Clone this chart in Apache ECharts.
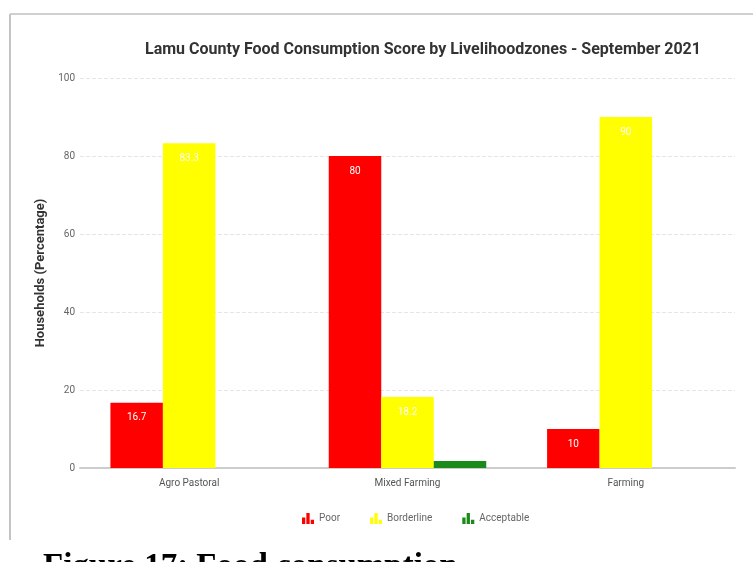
<!DOCTYPE html>
<html>
<head>
<meta charset="utf-8">
<script src="https://cdn.jsdelivr.net/npm/echarts@6/dist/echarts.min.js"></script>
<style>html,body{margin:0;padding:0;background:#fff;}#c{width:753px;height:562px;}</style>
</head>
<body>
<div id="c"></div>
<script>
const categories = ['Agro Pastoral', 'Mixed Farming', 'Farming'];
const poor = [16.7, 80, 10];
const borderline = [83.3, 18.2, 90];
const acceptable = [null, 1.8, null];
const yTicks = [0, 20, 40, 60, 80, 100];
const titleText = 'Lamu County Food Consumption Score by Livelihoodzones - September 2021';
const yAxisName = 'Households (Percentage)';
const caption = 'Figure 17: Food consumption';

const barIcon = 'path://M0,10 L0,4 L3,4 L3,10 Z M4,10 L4,0 L7,0 L7,10 Z M8,10 L8,6 L11,6 L11,10 Z';

const chart = echarts.init(document.getElementById('c'));
const lbl = {show: true, position: 'insideTop', color: '#fff', fontSize: 10, fontFamily: 'Roboto', distance: 10};
chart.setOption({
  animation: false,
  title: {
    text: titleText, left: 418, top: 37, textAlign: 'center',
    textStyle: {fontSize: 16, fontWeight: 'bold', color: '#333', fontFamily: 'Roboto'}
  },
  legend: {
    bottom: 33, left: 297, itemGap: 30, itemWidth: 12, itemHeight: 12,
    textStyle: {fontSize: 10, color: '#666', fontFamily: 'Roboto'},
    data: [{name: 'Poor', icon: barIcon}, {name: 'Borderline', icon: barIcon}, {name: 'Acceptable', icon: barIcon}]
  },
  grid: {left: 80, right: 18, top: 78, bottom: 94, containLabel: false},
  xAxis: {
    type: 'category', data: categories,
    axisLine: {lineStyle: {color: '#ccc', width: 2}},
    axisTick: {show: false},
    axisLabel: {color: '#555', fontSize: 10, fontFamily: 'Roboto', margin: 10}
  },
  yAxis: {
    type: 'value', min: 0, max: 100, interval: 20,
    name: yAxisName, nameLocation: 'middle', nameGap: 31,
    nameTextStyle: {color: '#333', fontSize: 13, fontFamily: 'Roboto', fontWeight: 'bold'},
    axisLine: {show: false}, axisTick: {show: false},
    axisLabel: {color: '#666', fontSize: 10, fontFamily: 'Roboto', margin: 5,
      formatter: v => yTicks.includes(v) ? String(v) : ''},
    splitLine: {lineStyle: {color: '#e6e6e6', type: 'dashed'}}
  },
  series: [
    {name: 'Poor', type: 'bar', data: poor, barWidth: 52.5, barGap: '0%', itemStyle: {color: '#ff0000'}, label: lbl},
    {name: 'Borderline', type: 'bar', data: borderline, barWidth: 52.5, itemStyle: {color: '#ffff00'}, label: lbl},
    {name: 'Acceptable', type: 'bar', data: acceptable, barWidth: 52.5, itemStyle: {color: '#1a8a1a'}, label: {show: false}}
  ],
  graphic: [
    {type: 'line', shape: {x1: 10, y1: 14, x2: 753, y2: 14}, style: {stroke: '#d0d0d0', lineWidth: 2}, z: 100},
    {type: 'line', shape: {x1: 10, y1: 14, x2: 10, y2: 541}, style: {stroke: '#c4c4c4', lineWidth: 2}, z: 100},
    {type: 'rect', shape: {x: 8, y: 540, width: 745, height: 22}, style: {fill: '#fff'}, z: 100},
    {type: 'text', left: 43, top: 551, z: 101,
      style: {text: caption, font: 'bold 33px "Liberation Serif"', fill: '#000'}}
  ]
});
</script>
</body>
</html>
